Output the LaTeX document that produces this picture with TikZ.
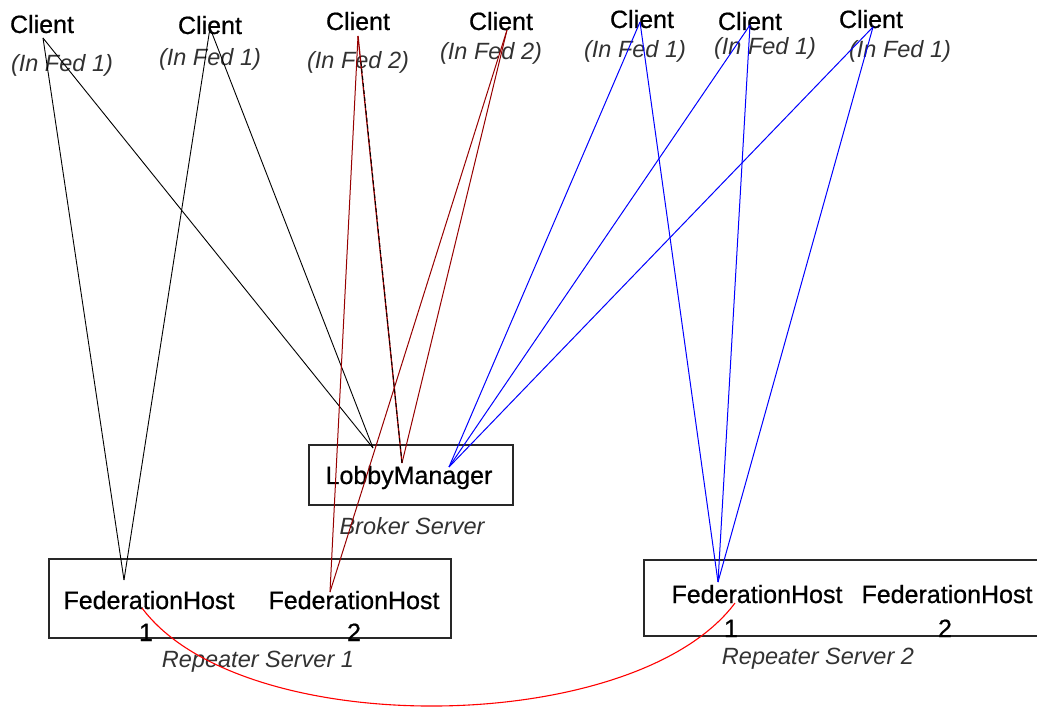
\documentclass[tikz,border=0pt]{standalone}
\usepackage{fontspec}
\setmainfont{Liberation Sans}
\newfontface\heavyface{Liberation Sans}[FakeBold=0.7]
\definecolor{wirered}{RGB}{150,0,0}
\definecolor{wireblue}{RGB}{0,0,255}
\definecolor{linkred}{RGB}{255,0,0}
\definecolor{boxline}{RGB}{40,40,40}
\definecolor{captxt}{RGB}{50,50,50}
\begin{document}
\begin{tikzpicture}[x=1pt,y=-1pt,
  lbl/.style={inner sep=0pt, anchor=base, font=\heavyface\fontsize{25}{30}\selectfont},
  fed/.style={inner sep=0pt, anchor=base, text=captxt, font=\fontsize{23.5}{28}\selectfont\itshape},
  srvbox/.style={draw=boxline, line width=1.4pt},
  wireK/.style={draw=black, line width=0.9pt},
  wireR/.style={draw=wirered, line width=1pt},
  wireB/.style={draw=wireblue, line width=1pt},
  peer/.style={draw=linkred, line width=1.1pt}]
\useasboundingbox (0,0) rectangle (1037,708);

% server boxes
\draw[srvbox] (309,445) rectangle (513,505);
\draw[srvbox] (49,559) rectangle (451,638);
\draw[srvbox] (1037,560) -- (644,560) -- (644,636) -- (1037,636);

% client labels
\node[lbl] (cl1) at (42,33) {Client};
\node[fed] (fd1) at (62,72) {(In Fed 1)};
\node[lbl] (cl2) at (210,34) {Client};
\node[fed] (fd2) at (210,66) {(In Fed 1)};
\node[lbl] (cl3) at (358,30) {Client};
\node[fed] (fd3) at (358,69) {(In Fed 2)};
\node[lbl] (cl4) at (501,30) {Client};
\node[fed] (fd4) at (491,60) {(In Fed 2)};
\node[lbl] (cl5) at (642,28) {Client};
\node[fed] (fd5) at (635,58) {(In Fed 1)};
\node[lbl] (cl6) at (750,30) {Client};
\node[fed] (fd6) at (765,55) {(In Fed 1)};
\node[lbl] (cl7) at (871,28) {Client};
\node[fed] (fd7) at (900,58) {(In Fed 1)};

% broker and repeater labels
\node[lbl] (lm) at (409,484) {LobbyManager};
\node[fed] (brk) at (412,535) {Broker Server};
\node[lbl] (fh1) at (149,609) {FederationHost};
\node[lbl] (fh1n) at (146,641) {1};
\node[lbl] (fh2) at (354,609) {FederationHost};
\node[lbl] (fh2n) at (354,641) {2};
\node[fed] (rs1) at (258,667) {Repeater Server 1};
\node[lbl] (fh3) at (757,603) {FederationHost};
\node[lbl] (fh3n) at (731,637) {1};
\node[lbl] (fh4) at (947,603) {FederationHost};
\node[lbl] (fh4n) at (945,637) {2};
\node[fed] (rs2) at (818,664) {Repeater Server 2};

% connection points
\coordinate (c1) at (43,38);
\coordinate (c2) at (210,28);
\coordinate (c3) at (358,36);
\coordinate (c3k) at (361,62);
\coordinate (c4) at (507,30);
\coordinate (c5) at (640,22);
\coordinate (c6) at (750,25);
\coordinate (c7) at (873,27);
\coordinate (lmK) at (373,448);
\coordinate (lmR) at (402,463);
\coordinate (lmB) at (449,467);
\coordinate (h1) at (124,580);
\coordinate (h2) at (330,592);
\coordinate (h3) at (718,582);
\coordinate (p1) at (142,608);
\coordinate (p3) at (735,603);

% federation 1 clients on repeater server 1
\draw[wireK] (c1) -- (h1);
\draw[wireK] (c1) -- (lmK);
\draw[wireK] (c2) -- (h1);
\draw[wireK] (c2) -- (lmK);

% federation 2 clients
\draw[wireR] (c3) -- (h2);
\draw[wireR] (c4) -- (h2);
\draw[wireR] (c4) -- (lmR);
\draw[wireR, line width=1.3pt] (c3) -- (lmR);
\draw[black, line width=1pt, dash pattern=on 4pt off 3pt] (c3k) -- (lmR);

% federation 1 clients on repeater server 2
\draw[wireB] (c5) -- (lmB);
\draw[wireB] (c5) -- (h3);
\draw[wireB] (c6) -- (lmB);
\draw[wireB] (c6) -- (h3);
\draw[wireB] (c7) -- (lmB);
\draw[wireB] (c7) -- (h3);

% link between the two federation hosts
\draw[peer] (p1) .. controls (242,742) and (635,737) .. (p3);
\end{tikzpicture}
\end{document}
